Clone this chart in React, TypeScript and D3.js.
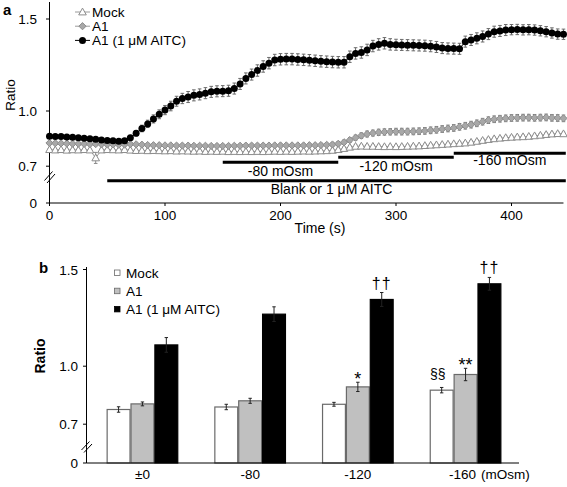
import React from 'react';
import * as d3 from 'd3';

// ---------- Panel a data (sampling every 5 s) ----------
const TIME_S = [
  0, 5, 10, 15, 20, 25, 30, 35, 40, 45,
  50, 55, 60, 65, 70, 75, 80, 85, 90, 95,
  100, 105, 110, 115, 120, 125, 130, 135, 140, 145,
  150, 155, 160, 165, 170, 175, 180, 185, 190, 195,
  200, 205, 210, 215, 220, 225, 230, 235, 240, 245,
  250, 255, 260, 265, 270, 275, 280, 285, 290, 295,
  300, 305, 310, 315, 320, 325, 330, 335, 340, 345,
  350, 355, 360, 365, 370, 375, 380, 385, 390, 395,
  400, 405, 410, 415, 420, 425, 430, 435, 440, 445,
];

const MOCK = [
  0.790, 0.788, 0.790, 0.787, 0.789, 0.788, 0.790, 0.788, 0.745, 0.788,
  0.790, 0.789, 0.788, 0.790, 0.787, 0.785, 0.786, 0.784, 0.785, 0.784,
  0.783, 0.784, 0.782, 0.783, 0.782, 0.781, 0.782, 0.780, 0.781, 0.780,
  0.781, 0.779, 0.780, 0.779, 0.780, 0.779, 0.780, 0.779, 0.780, 0.781,
  0.780, 0.781, 0.780, 0.781, 0.782, 0.781, 0.782, 0.783, 0.784, 0.786,
  0.790, 0.796, 0.803, 0.808, 0.809, 0.808, 0.808, 0.807, 0.806, 0.807,
  0.806, 0.807, 0.808, 0.809, 0.810, 0.812, 0.814, 0.816, 0.818, 0.820,
  0.822, 0.824, 0.826, 0.830, 0.835, 0.840, 0.845, 0.849, 0.852, 0.855,
  0.857, 0.859, 0.860, 0.862, 0.865, 0.868, 0.872, 0.875, 0.877, 0.876,
];
const MOCK_ERR = [
  0.006, 0.006, 0.006, 0.006, 0.006, 0.006, 0.006, 0.006, 0.030, 0.006,
  0.006, 0.006, 0.006, 0.006, 0.006, 0.006, 0.006, 0.006, 0.006, 0.006,
  0.006, 0.006, 0.006, 0.006, 0.006, 0.006, 0.006, 0.006, 0.006, 0.006,
  0.006, 0.006, 0.006, 0.006, 0.006, 0.006, 0.006, 0.006, 0.006, 0.006,
  0.006, 0.006, 0.006, 0.006, 0.006, 0.006, 0.006, 0.006, 0.006, 0.007,
  0.007, 0.008, 0.008, 0.008, 0.008, 0.008, 0.008, 0.008, 0.008, 0.008,
  0.008, 0.008, 0.008, 0.008, 0.008, 0.008, 0.008, 0.008, 0.008, 0.008,
  0.008, 0.008, 0.008, 0.009, 0.009, 0.009, 0.009, 0.009, 0.009, 0.009,
  0.009, 0.009, 0.009, 0.009, 0.009, 0.009, 0.009, 0.009, 0.009, 0.009,
];

const A1 = [
  0.826, 0.825, 0.824, 0.823, 0.822, 0.822, 0.821, 0.820, 0.820, 0.819,
  0.818, 0.818, 0.817, 0.818, 0.820, 0.819, 0.817, 0.815, 0.814, 0.814,
  0.813, 0.813, 0.812, 0.812, 0.812, 0.811, 0.811, 0.811, 0.810, 0.810,
  0.810, 0.810, 0.811, 0.811, 0.812, 0.812, 0.812, 0.812, 0.812, 0.813,
  0.813, 0.813, 0.813, 0.813, 0.813, 0.814, 0.814, 0.815, 0.816, 0.818,
  0.822, 0.830, 0.842, 0.855, 0.866, 0.875, 0.880, 0.884, 0.886, 0.887,
  0.888, 0.888, 0.888, 0.889, 0.890, 0.892, 0.895, 0.898, 0.902, 0.905,
  0.908, 0.914, 0.920, 0.926, 0.933, 0.942, 0.950, 0.955, 0.958, 0.960,
  0.962, 0.963, 0.964, 0.964, 0.963, 0.964, 0.965, 0.963, 0.962, 0.960,
];
const A1_ERR = [
  0.007, 0.007, 0.007, 0.007, 0.007, 0.007, 0.007, 0.007, 0.007, 0.007,
  0.007, 0.007, 0.007, 0.007, 0.007, 0.007, 0.007, 0.007, 0.007, 0.007,
  0.007, 0.007, 0.007, 0.007, 0.007, 0.007, 0.007, 0.007, 0.007, 0.007,
  0.007, 0.007, 0.007, 0.007, 0.007, 0.007, 0.007, 0.007, 0.007, 0.007,
  0.008, 0.008, 0.008, 0.008, 0.008, 0.008, 0.008, 0.009, 0.009, 0.010,
  0.011, 0.012, 0.013, 0.014, 0.015, 0.016, 0.016, 0.017, 0.017, 0.017,
  0.018, 0.018, 0.018, 0.018, 0.018, 0.018, 0.018, 0.018, 0.018, 0.018,
  0.018, 0.018, 0.018, 0.018, 0.018, 0.018, 0.018, 0.018, 0.018, 0.018,
  0.018, 0.018, 0.018, 0.018, 0.018, 0.018, 0.018, 0.018, 0.018, 0.018,
];

const AITC = [
  0.863, 0.862, 0.861, 0.859, 0.857, 0.854, 0.852, 0.849, 0.846, 0.843,
  0.840, 0.838, 0.836, 0.838, 0.855, 0.879, 0.905, 0.930, 0.957, 0.982,
  1.005, 1.027, 1.053, 1.068, 1.076, 1.085, 1.090, 1.097, 1.104, 1.107,
  1.108, 1.110, 1.122, 1.147, 1.177, 1.198, 1.220, 1.242, 1.260, 1.277,
  1.281, 1.282, 1.282, 1.280, 1.278, 1.276, 1.273, 1.270, 1.268, 1.266,
  1.265, 1.265, 1.295, 1.313, 1.318, 1.332, 1.353, 1.362, 1.368, 1.362,
  1.360, 1.359, 1.358, 1.357, 1.356, 1.355, 1.352, 1.348, 1.342, 1.340,
  1.339, 1.338, 1.377, 1.386, 1.395, 1.405, 1.418, 1.431, 1.435, 1.440,
  1.442, 1.443, 1.441, 1.442, 1.440, 1.436, 1.431, 1.424, 1.418, 1.417,
];
const AITC_ERR = [
  0.005, 0.005, 0.005, 0.005, 0.005, 0.005, 0.005, 0.005, 0.005, 0.005,
  0.005, 0.005, 0.005, 0.008, 0.012, 0.015, 0.018, 0.020, 0.022, 0.024,
  0.025, 0.026, 0.027, 0.028, 0.030, 0.030, 0.030, 0.030, 0.030, 0.030,
  0.030, 0.030, 0.030, 0.030, 0.030, 0.030, 0.031, 0.031, 0.031, 0.031,
  0.031, 0.031, 0.031, 0.031, 0.031, 0.031, 0.031, 0.031, 0.031, 0.031,
  0.031, 0.031, 0.031, 0.031, 0.031, 0.031, 0.031, 0.031, 0.031, 0.031,
  0.030, 0.030, 0.030, 0.030, 0.030, 0.030, 0.030, 0.030, 0.030, 0.030,
  0.030, 0.030, 0.030, 0.030, 0.030, 0.030, 0.030, 0.030, 0.030, 0.030,
  0.028, 0.028, 0.028, 0.028, 0.028, 0.028, 0.028, 0.028, 0.028, 0.028,
];

const SERIES_A_LABELS = ['Mock', 'A1', 'A1 (1 μM AITC)'];
const STIM_START = [150, 250, 350];
const STIM_END = [250, 350, 447];
const STIM_LABELS = ['-80 mOsm', '-120 mOsm', '-160 mOsm'];
const BLANK_SPAN = [50, 447];
const BLANK_LABEL = 'Blank or 1 μM AITC';
const X_TICKS_A = [0, 100, 200, 300, 400];
const Y_TICKS = [0.7, 1.0, 1.5];

// ---------- Panel b data ----------
const B_CATS = ['±0', '-80', '-120', '-160'];
const B_SERIES = ['Mock', 'A1', 'A1 (1 μM AITC)'];
const B_MOCK = [0.776, 0.789, 0.803, 0.876];
const B_MOCK_ERR = [0.014, 0.014, 0.010, 0.014];
const B_A1 = [0.805, 0.821, 0.893, 0.957];
const B_A1_ERR = [0.010, 0.013, 0.024, 0.032];
const B_AITC = [1.110, 1.269, 1.345, 1.426];
const B_AITC_ERR = [0.038, 0.038, 0.036, 0.033];
const B_MARK_MOCK = ['', '', '', '§§'];
const B_MARK_A1 = ['', '', '*', '**'];
const B_MARK_AITC = ['', '', '††', '††'];

const FONT = 'Liberation Sans, Arial, Helvetica, sans-serif';

function ErrBar({ x, y1, y2, cap, color }: { x: number; y1: number; y2: number; cap: number; color: string }) {
  return (
    <g stroke={color} strokeWidth={1}>
      <line x1={x} x2={x} y1={y1} y2={y2} />
      <line x1={x - cap} x2={x + cap} y1={y1} y2={y1} />
      <line x1={x - cap} x2={x + cap} y1={y2} y2={y2} />
    </g>
  );
}

function tri(x: number, y: number) {
  return `M${x},${y - 3.9}L${x + 3.8},${y + 2.9}L${x - 3.8},${y + 2.9}Z`;
}
function dia(x: number, y: number) {
  return `M${x},${y - 3.6}L${x + 3.6},${y}L${x},${y + 3.6}L${x - 3.6},${y}Z`;
}

function PanelA() {
  const x = d3.scaleLinear().domain([0, 400]).range([49.5, 511.5]);
  const y = d3.scaleLinear().domain([0.7, 1.5]).range([166.2, 19]);
  const yZero = 203;
  const line = (vals: number[]) =>
    d3.line<number>().x((_, i) => x(TIME_S[i])).y((v) => y(v))(vals) || '';

  const series = [
    { vals: MOCK, err: MOCK_ERR, lineColor: '#9a9a9a', errColor: '#8a8a8a', kind: 'tri' },
    { vals: A1, err: A1_ERR, lineColor: '#9a9a9a', errColor: '#7a7a7a', kind: 'dia' },
    { vals: AITC, err: AITC_ERR, lineColor: '#000', errColor: '#6a6a6a', kind: 'circ' },
  ];

  const marker = (kind: string, cx: number, cy: number, key: any) => {
    if (kind === 'tri') return <path key={key} d={tri(cx, cy)} fill="#fff" stroke="#8c8c8c" strokeWidth={1} />;
    if (kind === 'dia') return <path key={key} d={dia(cx, cy)} fill="#a8a8a8" stroke="#8c8c8c" strokeWidth={1} />;
    return <circle key={key} cx={cx} cy={cy} r={3.5} fill="#000" />;
  };

  const xEnd = x(445);
  return (
    <g fontFamily={FONT}>
      <text x={3} y={15} fontSize={15} fontWeight="bold">a</text>
      {/* legend */}
      {SERIES_A_LABELS.map((lab, i) => {
        const cy = 12 + i * 14.2;
        const s = series[i];
        return (
          <g key={lab}>
            <line x1={75} x2={90} y1={cy} y2={cy} stroke={s.lineColor} strokeWidth={1} />
            {marker(s.kind, 82.5, cy, 'm')}
            <text x={92} y={cy + 5} fontSize={13.6}>{lab}</text>
          </g>
        );
      })}
      {/* axes */}
      <line x1={49.5} x2={49.5} y1={2} y2={yZero} stroke="#000" strokeWidth={1} />
      <line x1={49.5} x2={xEnd} y1={yZero} y2={yZero} stroke="#000" strokeWidth={1} />
      {Y_TICKS.map((t) => (
        <g key={t}>
          <line x1={46} x2={49.5} y1={y(t)} y2={y(t)} stroke="#000" />
          <text x={37} y={y(t) + 5} fontSize={13.5} textAnchor="end">{t.toFixed(1)}</text>
        </g>
      ))}
      <line x1={46} x2={49.5} y1={yZero} y2={yZero} stroke="#000" />
      <text x={37} y={yZero + 5} fontSize={13.5} textAnchor="end">0</text>
      {/* axis break */}
      <g stroke="#000" strokeWidth={1}>
        <line x1={44.5} y1={180.5} x2={52.5} y2={171.5} />
        <line x1={47} y1={183} x2={55} y2={174} />
      </g>
      {X_TICKS_A.map((t) => (
        <g key={t}>
          <line x1={x(t)} x2={x(t)} y1={yZero} y2={yZero + 3} stroke="#000" />
          <text x={x(t)} y={219.5} fontSize={13.5} textAnchor="middle">{t}</text>
        </g>
      ))}
      <text transform="translate(15,95) rotate(-90)" fontSize={13.5} textAnchor="middle">Ratio</text>
      <text x={320} y={233} fontSize={14} textAnchor="middle">Time (s)</text>
      {/* stimulus bars */}
      {STIM_LABELS.map((lab, i) => {
        const by = [162.3, 157.3, 153.3][i];
        const ty = [176, 170.7, 165][i];
        return (
          <g key={lab}>
            <line x1={x(STIM_START[i])} x2={x(STIM_END[i])} y1={by} y2={by} stroke="#000" strokeWidth={3} />
            <text x={(x(STIM_START[i]) + x(STIM_END[i])) / 2} y={ty} fontSize={14} textAnchor="middle">{lab}</text>
          </g>
        );
      })}
      <line x1={x(BLANK_SPAN[0])} x2={x(BLANK_SPAN[1])} y1={180.7} y2={180.7} stroke="#000" strokeWidth={3} />
      <text x={(x(BLANK_SPAN[0]) + x(BLANK_SPAN[1])) / 2 - 5} y={194} fontSize={14} textAnchor="middle">{BLANK_LABEL}</text>
      {/* series */}
      {series.map((s, si) => (
        <g key={si}>
          <path d={line(s.vals)} fill="none" stroke={s.lineColor} strokeWidth={1} />
          {s.vals.map((v, i) => (
            <ErrBar key={i} x={x(TIME_S[i])} y1={y(v + s.err[i])} y2={y(v - s.err[i])} cap={1.8} color={s.errColor} />
          ))}
          {s.vals.map((v, i) => marker(s.kind, x(TIME_S[i]), y(v), i))}
        </g>
      ))}
    </g>
  );
}

function PanelB() {
  const y = d3.scaleLinear().domain([0.7, 1.5]).range([424.2, 269.5]);
  const yZero = 463;
  const xAxisStart = 86.5;
  const x0 = d3.scaleBand<string>().domain(B_CATS).range([88.6, 519.4]).paddingInner(0.335).paddingOuter(0.1675);
  const x1 = d3.scaleBand<string>().domain(B_SERIES).range([0, x0.bandwidth()]).padding(0);
  const sets = [
    { vals: B_MOCK, err: B_MOCK_ERR, fill: '#ffffff', stroke: '#6a6a6a', marks: B_MARK_MOCK },
    { vals: B_A1, err: B_A1_ERR, fill: '#c0c0c0', stroke: '#6a6a6a', marks: B_MARK_A1 },
    { vals: B_AITC, err: B_AITC_ERR, fill: '#000000', stroke: '#000000', marks: B_MARK_AITC },
  ];
  return (
    <g fontFamily={FONT}>
      <text x={39} y={273} fontSize={15} fontWeight="bold">b</text>
      {/* legend */}
      {B_SERIES.map((lab, i) => {
        const cy = 273 + i * 18.2;
        return (
          <g key={lab}>
            <rect x={114.5} y={cy - 3} width={5.5} height={5.5} fill={sets[i].fill} stroke={sets[i].stroke} strokeWidth={0.8} />
            <text x={126} y={cy + 4.5} fontSize={13.6}>{lab}</text>
          </g>
        );
      })}
      {/* bars */}
      {B_CATS.map((c, ci) => (
        <g key={c} transform={`translate(${x0(c)},0)`}>
          {sets.map((s, si) => {
            const bx = x1(B_SERIES[si])!;
            const w = x1.bandwidth();
            const top = y(s.vals[ci]);
            const cx = bx + w / 2;
            return (
              <g key={si}>
                <rect x={bx + 0.5} y={top} width={w - 1} height={yZero - top} fill={s.fill} stroke={s.stroke} strokeWidth={1.2} />
                <ErrBar x={cx} y1={y(s.vals[ci] + s.err[ci])} y2={y(s.vals[ci] - s.err[ci])} cap={1.7} color="#222" />
              </g>
            );
          })}
        </g>
      ))}
      {/* significance marks */}
      {B_CATS.map((c, ci) =>
        sets.map((s, si) => {
          const m = s.marks[ci];
          if (!m) return null;
          const cx = x0(c)! + x1(B_SERIES[si])! + x1.bandwidth() / 2;
          const topErr = y(s.vals[ci] + s.err[ci]);
          if (si === 0) {
            return <text key={`${ci}-${si}`} x={cx - 4} y={topErr - 8} fontSize={14} textAnchor="middle">{m}</text>;
          }
          if (m.includes('*')) {
            return <text key={`${ci}-${si}`} x={cx} y={topErr + 3} fontSize={18} textAnchor="middle">{m}</text>;
          }
          return <text key={`${ci}-${si}`} x={cx} y={topErr - 4} fontSize={16} letterSpacing={1} textAnchor="middle">{m}</text>;
        })
      )}
      {/* axes */}
      <line x1={xAxisStart} x2={xAxisStart} y1={267} y2={yZero} stroke="#000" strokeWidth={1} />
      <line x1={xAxisStart} x2={519} y1={yZero} y2={yZero} stroke="#000" strokeWidth={1} />
      {Y_TICKS.map((t) => (
        <g key={t}>
          <line x1={83} x2={xAxisStart} y1={y(t)} y2={y(t)} stroke="#000" />
          <text x={78} y={y(t) + 5} fontSize={13.5} textAnchor="end">{t.toFixed(1)}</text>
        </g>
      ))}
      <line x1={83} x2={xAxisStart} y1={yZero} y2={yZero} stroke="#000" />
      <text x={78} y={yZero + 5} fontSize={13.5} textAnchor="end">0</text>
      <g stroke="#000" strokeWidth={1}>
        <line x1={81.5} y1={450} x2={89.5} y2={441.5} />
        <line x1={84} y1={452.5} x2={92} y2={444} />
      </g>
      <text transform="translate(45,356) rotate(-90)" fontSize={14} fontWeight="bold" textAnchor="middle">Ratio</text>
      {B_CATS.map((c, ci) => (
        <text key={c} x={x0(c)! + x0.bandwidth() / 2 - (ci === 3 ? 3 : 0)} y={478.5} fontSize={13.5} textAnchor="middle">{c}</text>
      ))}
      <text x={481} y={478.5} fontSize={13.5}>(mOsm)</text>
    </g>
  );
}

export default function App() {
  return (
    <svg width={567} height={487} style={{ position: 'absolute', left: 0, top: 0, background: '#fff' }}>
      <rect width={567} height={487} fill="#fff" />
      <PanelA />
      <PanelB />
    </svg>
  );
}
